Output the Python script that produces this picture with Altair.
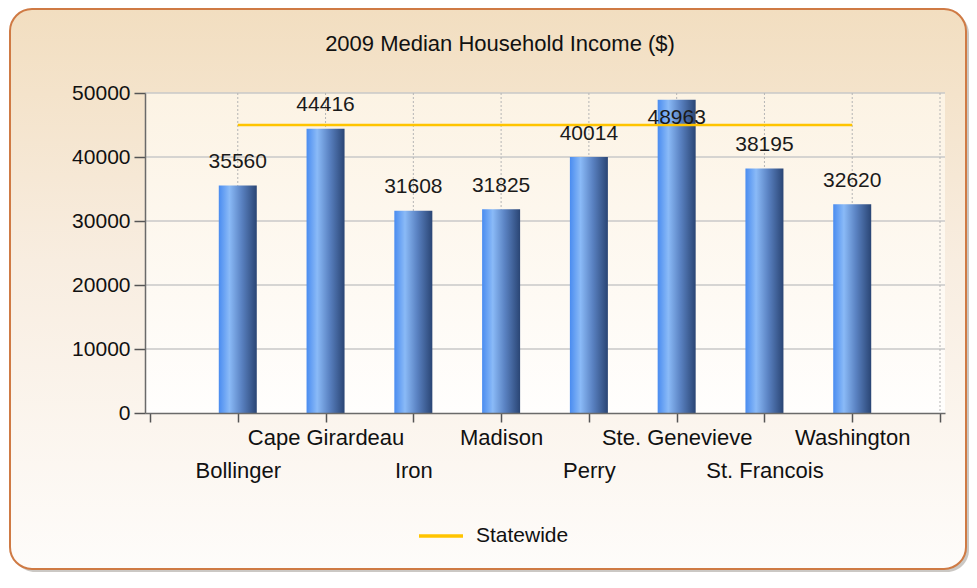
import json
import altair as alt
import pandas as pd

# ---- data ----
counties = ["Bollinger", "Cape Girardeau", "Iron", "Madison", "Perry",
            "Ste. Genevieve", "St. Francois", "Washington"]
income = [35560, 44416, 31608, 31825, 40014, 48963, 38195, 32620]
statewide = 45000
y_ticks = [0, 10000, 20000, 30000, 40000, 50000]
title_text = "2009 Median Household Income ($)"
series_name = "Statewide"

positions = list(range(1, len(counties) + 1))
df = pd.DataFrame({"county": counties, "pos": positions, "income": income})
line_df = pd.DataFrame({"pos": positions, "value": [statewide] * len(counties),
                        "series": [series_name] * len(counties)})
ygrid_df = pd.DataFrame({"v": y_ticks[1:]})
xgrid_df = pd.DataFrame({"p": positions + [len(counties) + 1]})
one = pd.DataFrame({"a": [0]})

W, H = 800, 320
FONT = "Liberation Sans"
xmax = len(counties) + 1

xscale = alt.Scale(domain=[0, xmax], nice=False, zero=False)
yscale = alt.Scale(domain=[0, 50000], nice=False)

label_expr = "(" + json.dumps(counties) + ")[datum.value - 1] || ''"

xaxis = alt.Axis(values=list(range(0, xmax + 1)), labelExpr=label_expr,
                 labelFont=FONT, labelFontSize=22, labelColor="#111111",
                 labelOverlap=False, labelFlush=False, grid=False,
                 tickSize=9, tickColor="#555555", tickWidth=1.5,
                 domainColor="#6a6a6a", domainWidth=1.5,
                 labelBaseline="top",
                 labelPadding={"condition": {"test": "datum.value % 2 == 1", "value": 38},
                               "value": 5},
                 zindex=1, title=None)
yaxis = alt.Axis(values=y_ticks, format="d", labelFont=FONT, labelFontSize=21,
                 labelColor="#111111", grid=False, tickSize=11,
                 tickColor="#555555", tickWidth=1.5, domainColor="#6a6a6a",
                 domainWidth=1.5, labelPadding=4, zindex=1, title=None)

# outer rounded panel with shadow
shadow = alt.Chart(one).mark_rect(
    cornerRadius=22, fill="#a09a94", opacity=0.55
).encode(x=alt.value(-132), x2=alt.value(824), y=alt.value(-81), y2=alt.value(479))

panel = alt.Chart(one).mark_rect(
    cornerRadius=22, stroke="#cf7a44", strokeWidth=2,
    fill=alt.LinearGradient(
        gradient="linear", x1=0, y1=0, x2=0, y2=1,
        stops=[alt.GradientStop(color="#f2dec0", offset=0),
               alt.GradientStop(color="#f8ede0", offset=0.45),
               alt.GradientStop(color="#fefcfa", offset=1)])
).encode(x=alt.value(-135), x2=alt.value(821), y=alt.value(-84), y2=alt.value(476))

plot_bg = alt.Chart(one).mark_rect(
    fill=alt.LinearGradient(
        gradient="linear", x1=0, y1=0, x2=0, y2=1,
        stops=[alt.GradientStop(color="#fcf3e4", offset=0),
               alt.GradientStop(color="#fffefd", offset=1)])
).encode(x=alt.value(0), x2=alt.value(W), y=alt.value(0), y2=alt.value(H))

ygrid = alt.Chart(ygrid_df).mark_rule(color="#c9c9c9", strokeWidth=1.5).encode(
    y=alt.Y("v:Q", scale=yscale, axis=yaxis))

xgrid = alt.Chart(xgrid_df).mark_rule(color="#b5b5b5", strokeWidth=1, strokeDash=[2, 2]).encode(
    x=alt.X("p:Q", scale=xscale, axis=xaxis))

bars = alt.Chart(df).mark_bar(
    size=38,
    fill=alt.LinearGradient(
        gradient="linear", x1=0, y1=0, x2=1, y2=0,
        stops=[alt.GradientStop(color="#4a8cf0", offset=0),
               alt.GradientStop(color="#8abaf7", offset=0.28),
               alt.GradientStop(color="#5a82c2", offset=0.6),
               alt.GradientStop(color="#2a4574", offset=1)])
).encode(
    x=alt.X("pos:Q", scale=xscale, axis=xaxis),
    y=alt.Y("income:Q", scale=yscale, axis=yaxis),
)

line = alt.Chart(line_df).mark_line(strokeWidth=2.5).encode(
    x=alt.X("pos:Q", scale=xscale, axis=xaxis),
    y=alt.Y("value:Q", scale=yscale, axis=yaxis),
    color=alt.Color("series:N",
                    scale=alt.Scale(domain=[series_name], range=["#ffc400"]),
                    legend=alt.Legend(title=None, orient="none", legendX=272, legendY=419,
                                      symbolType="stroke", symbolSize=1936,
                                      symbolStrokeWidth=3.5, labelFont=FONT,
                                      labelFontSize=21, labelColor="#111111",
                                      labelOffset=11, padding=0)),
)

labels = alt.Chart(df).transform_calculate(
    ly="datum.income + 5200 > 50000 ? datum.income - 2870 : datum.income + 3650"
).mark_text(font=FONT, fontSize=21, color="#1a1a1a", baseline="middle").encode(
    x=alt.X("pos:Q", scale=xscale, axis=xaxis),
    y=alt.Y("ly:Q", scale=yscale, axis=yaxis),
    text=alt.Text("income:Q", format="d"),
)

chart = alt.layer(shadow, panel, plot_bg, ygrid, xgrid, bars, line, labels).properties(
    width=W, height=H,
    padding={"left": 137, "top": 85, "right": 24, "bottom": 159},
    autosize=alt.AutoSizeParams(type="none"),
    title=alt.TitleParams(title_text, font=FONT, fontSize=22, fontWeight="normal",
                          color="#111111", anchor="middle", dx=-45, offset=-70,
                          baseline="bottom"),
).configure_view(stroke=None).configure(background="white")

chart.save("out.html", embed_options={"renderer": "svg", "actions": False})
